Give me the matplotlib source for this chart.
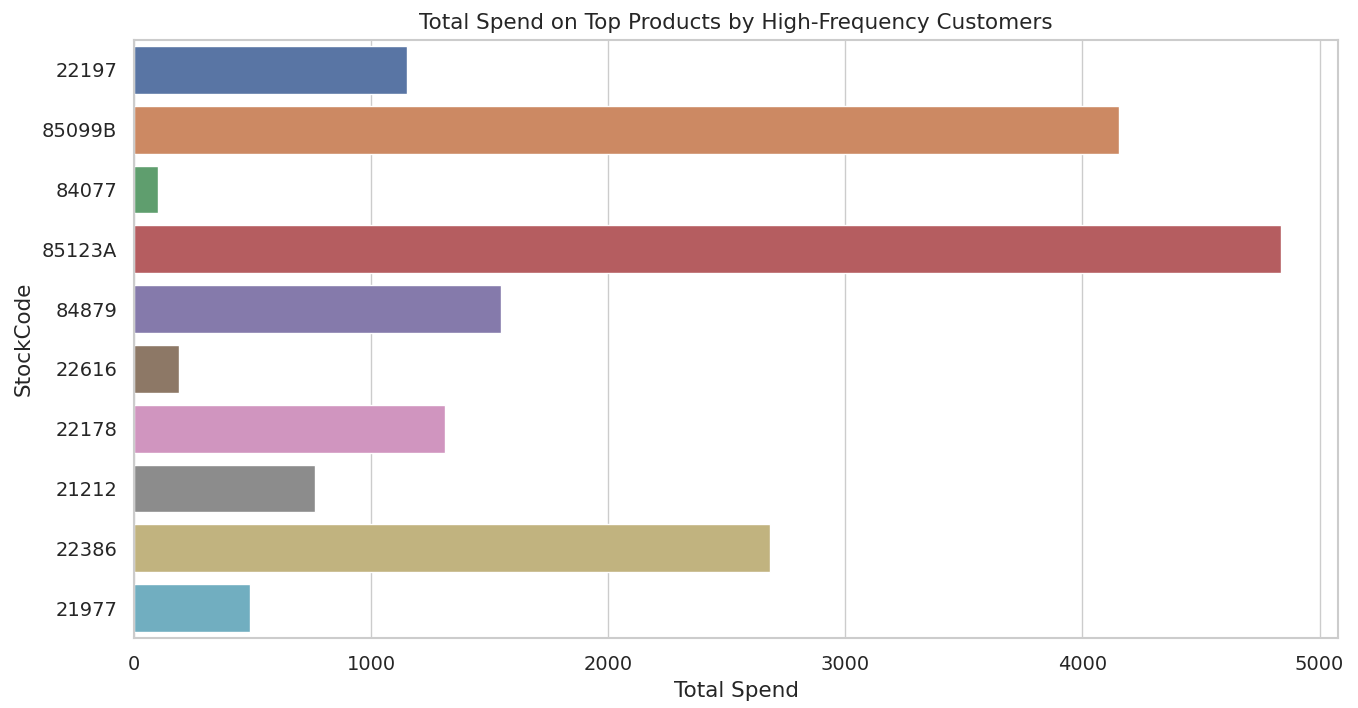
import matplotlib
matplotlib.use("Agg")
import matplotlib.pyplot as plt
import seaborn as sns
import pandas as pd

# values
stock_codes = ["22197", "85099B", "84077", "85123A", "84879",
               "22616", "22178", "21212", "22386", "21977"]
total_spend = [1150, 4153, 101, 4836, 1546, 190, 1310, 762, 2683, 489]

df = pd.DataFrame({"StockCode": stock_codes, "Total Spend": total_spend})

sns.set_theme(style="whitegrid")
fig = plt.figure(figsize=(13.58, 7.08), dpi=100)
ax = fig.add_axes([134 / 1358, 1 - 638 / 708, (1338 - 134) / 1358, (638 - 40) / 708])

sns.barplot(data=df, x="Total Spend", y="StockCode", hue="StockCode",
            palette="deep", legend=False, ax=ax)

ax.set_title("Total Spend on Top Products by High-Frequency Customers",
             fontsize=15.5, pad=8)
ax.set_xlabel("Total Spend", fontsize=15.5, labelpad=5)
ax.set_ylabel("StockCode", fontsize=15.5, labelpad=6)
ax.tick_params(labelsize=14, pad=6)
for s in ax.spines.values():
    s.set_linewidth(1.5)

fig.savefig("out.png", dpi=100)
